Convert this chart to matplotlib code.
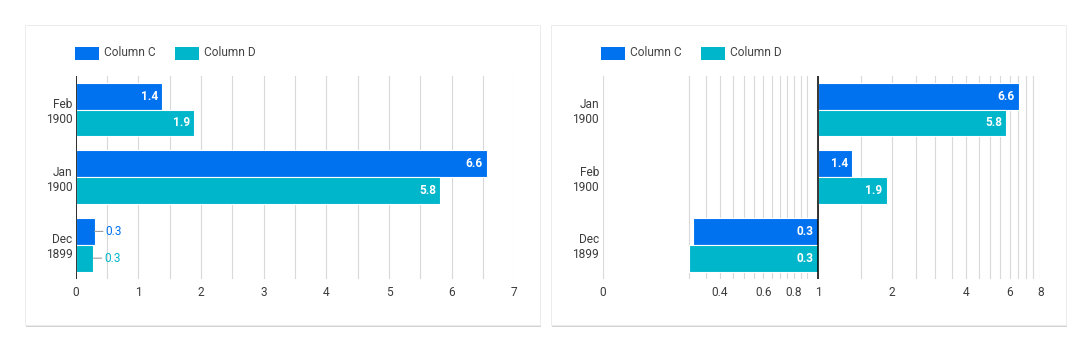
import numpy as np
import matplotlib
matplotlib.use("Agg")
import matplotlib.pyplot as plt
from matplotlib.patches import Rectangle
from matplotlib.ticker import FixedLocator, NullFormatter

'''Data (read off the picture)'''

series = ["Column C", "Column D"]
colors = ["#0072f0", "#00b6cb"]

# left chart: linear axis, months in the order shown top -> bottom
left_months = ["Feb\n1900", "Jan\n1900", "Dec\n1899"]
left_c = [1.38, 6.56, 0.30]
left_d = [1.89, 5.82, 0.28]

# right chart: log axis with baseline 1, sorted by Column C
right_months = ["Jan\n1900", "Feb\n1900", "Dec\n1899"]
right_c = [6.56, 1.38, 0.31]
right_d = [5.82, 1.90, 0.30]

left_ticks = [0, 1, 2, 3, 4, 5, 6, 7]
right_ticks = [0.4, 0.6, 0.8, 1, 2, 4, 6, 8]

plt.rcParams["font.family"] = ["Roboto", "DejaVu Sans"]
plt.rcParams["font.size"] = 8.6

W, H = 1087, 352
fig = plt.figure(figsize=(W / 100, H / 100), dpi=100)
fig.patch.set_facecolor("white")

def fx(px):
    return px / W

def fy(py):
    return 1 - py / H

'''Cards'''
for x0, x1 in [(25, 540), (551, 1066)]:
    shadow = Rectangle((fx(x0 + 0.5), fy(326.5)), fx(x1 - x0), (300) / H,
                       transform=fig.transFigure, facecolor="#d2d2d2",
                       edgecolor="none", zorder=-11)
    card = Rectangle((fx(x0), fy(325)), fx(x1 - x0), 300 / H,
                     transform=fig.transFigure, facecolor="white",
                     edgecolor="#ececec", linewidth=0.7, zorder=-10)
    fig.add_artist(shadow)
    fig.add_artist(card)

'''Legends'''
for x_start in [75, 601]:
    pos = [(x_start, x_start + 29), (x_start + 100, x_start + 129)]
    for (sx, tx), name, col in zip(pos, series, colors):
        fig.add_artist(Rectangle((fx(sx), fy(59.5)), fx(24), 12.5 / H,
                                 transform=fig.transFigure, facecolor=col,
                                 edgecolor="none"))
        fig.text(fx(tx), fy(53), name, ha="left", va="center",
                 color="#444444", fontsize=8.6)

text_col = "#3c3c3c"
grid_col = "#d9d9d9"
bar_h = 0.395


def draw_bars(ax, c_vals, d_vals, base, outside_rule):
    y = np.arange(len(c_vals))
    for vals, off, col in [(c_vals, -bar_h / 2, colors[0]), (d_vals, bar_h / 2, colors[1])]:
        vals = np.array(vals)
        ax.barh(y + off, vals - base, left=base, height=bar_h, color=col,
                edgecolor="white", linewidth=0.8, zorder=3)
        for yi, v in zip(y, vals):
            label = f"{v:.1f}"
            if outside_rule(v):
                # small value: label outside with a grey leader line
                ax.annotate(label, xy=(v, yi + off), xytext=(8, 0),
                            textcoords="offset points", ha="left", va="center",
                            color=col, fontsize=8.6, zorder=4,
                            arrowprops=dict(arrowstyle="-", color="#9e9e9e",
                                            lw=0.8, shrinkA=0, shrinkB=0,
                                            relpos=(0, 0.5)))
            elif v >= base:
                ax.annotate(label, xy=(v, yi + off), xytext=(-3, 0),
                            textcoords="offset points", ha="right", va="center",
                            color="white", fontweight="bold", fontsize=8.6, zorder=4)
            else:
                ax.annotate(label, xy=(base, yi + off), xytext=(-3, 0),
                            textcoords="offset points", ha="right", va="center",
                            color="white", fontweight="bold", fontsize=8.6, zorder=4)


def style_axis(ax, months):
    ax.set_ylim(len(months) - 0.5, -0.5)
    ax.set_yticks(np.arange(len(months)))
    ax.set_yticklabels(months, linespacing=1.2)
    for s in ["top", "right", "bottom", "left"]:
        ax.spines[s].set_visible(False)
    ax.tick_params(axis="both", which="both", length=0, colors=text_col, labelsize=8.6)
    ax.tick_params(axis="x", pad=5)
    ax.tick_params(axis="y", pad=2.5)
    ax.grid(True, axis="x", which="both", color=grid_col, linewidth=0.8, zorder=0)
    ax.set_axisbelow(True)
    ax.set_facecolor("none")


ax_l = fig.add_axes([fx(75.8), fy(278.6), fx(514.3 - 75.8), (278.6 - 75.8) / H])
ax_r = fig.add_axes([fx(602.5), fy(278.6), fx(1040.3 - 602.5), (278.6 - 75.8) / H])

'''Left chart (linear)'''
draw_bars(ax_l, left_c, left_d, 0, lambda v: v < 0.5)
ax_l.set_xlim(0, 7)
ax_l.set_xticks(left_ticks)
ax_l.xaxis.set_minor_locator(FixedLocator(np.arange(0.5, 7, 1.0)))
style_axis(ax_l, left_months)
ax_l.axvline(0, color="black", linewidth=1.1, zorder=5)

'''Right chart (log scale, baseline 1)'''
ax_r.set_xscale("log")
draw_bars(ax_r, right_c, right_d, 1, lambda v: False)
x_floor = 0.1334  # left edge of the axis, labelled "0"
ax_r.set_xlim(x_floor, 8)
ax_r.xaxis.set_major_locator(FixedLocator([x_floor] + right_ticks))
ax_r.set_xticklabels(["0"] + [f"{t:g}" for t in right_ticks])
minor = [0.3, 0.35, 0.45, 0.5, 0.55, 0.65, 0.7, 0.75, 0.85, 0.9,
         1.5, 2.5, 3, 3.5, 4.5, 5, 5.5, 6.5, 7, 7.5]
ax_r.xaxis.set_minor_locator(FixedLocator(minor))
ax_r.xaxis.set_minor_formatter(NullFormatter())
style_axis(ax_r, right_months)
ax_r.axvline(1, color="black", linewidth=1.1, zorder=5)

fig.savefig("out.png", dpi=100)
